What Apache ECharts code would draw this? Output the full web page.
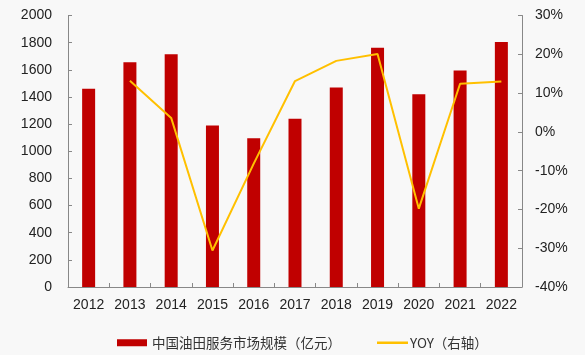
<!DOCTYPE html>
<html>
<head>
<meta charset="utf-8">
<script src="https://cdn.jsdelivr.net/npm/echarts@6/dist/echarts.min.js"></script>
<style>
html,body{margin:0;padding:0;background:#f8f8f8;}
#c{width:585px;height:355px;}
</style>
</head>
<body>
<div id="c"></div>
<script>
const years = ['2012','2013','2014','2015','2016','2017','2018','2019','2020','2021','2022'];
const marketSize = [1460, 1655, 1715, 1190, 1095, 1240, 1470, 1762, 1420, 1595, 1805];
const yoy = [null, 13.2, 3.6, -30.6, -8.2, 13.1, 18.3, 20.1, -19.8, 12.4, 13.0];
const leftTicks = {min: 0, max: 2000, interval: 200};
const rightTicks = {min: -40, max: 30, interval: 10};
const barName = '中国油田服务市场规模（亿元）';
const lineName = 'YOY（右轴）';

const chart = echarts.init(document.getElementById('c'), null, {renderer: 'canvas'});
const axisLine = {show: true, lineStyle: {color: '#888888', width: 1}};
const labelFont = {fontFamily: 'Liberation Sans, Arial, sans-serif', fontSize: 14, color: '#222222'};
chart.setOption({
  backgroundColor: '#f8f8f8',
  animation: false,
  grid: {left: 68, right: 63, top: 15.5, bottom: 68, containLabel: false},
  legend: [
    {
      data: [{name: barName, icon: 'rect'}], left: 112, top: 331, itemWidth: 30, itemHeight: 7, itemGap: 5,
      textStyle: {fontFamily: 'Noto Sans CJK SC', fontSize: 13.5, color: '#333333'}
    },
    {
      data: [{name: lineName, icon: 'rect'}], left: 372, top: 331, itemWidth: 31, itemHeight: 2.5,
      textStyle: {fontFamily: 'Noto Sans CJK SC', fontSize: 13.5, color: '#333333', padding: [0, 0, 0, -3]}
    }
  ],
  xAxis: {
    type: 'category', data: years, boundaryGap: true,
    axisLine: axisLine,
    axisTick: {show: true, inside: true, length: 4, lineStyle: {color: '#888888'}},
    axisLabel: Object.assign({margin: 11}, labelFont)
  },
  yAxis: [
    {
      type: 'value', min: leftTicks.min, max: leftTicks.max, interval: leftTicks.interval,
      axisLine: axisLine, splitLine: {show: false},
      axisTick: {show: true, inside: true, length: 4, lineStyle: {color: '#888888'}},
      axisLabel: Object.assign({margin: 16, formatter: function (v) { return String(v); }}, labelFont)
    },
    {
      type: 'value', min: rightTicks.min, max: rightTicks.max, interval: rightTicks.interval,
      position: 'right',
      axisLine: axisLine, splitLine: {show: false},
      axisTick: {show: true, inside: true, length: 4, lineStyle: {color: '#888888'}},
      axisLabel: Object.assign({margin: 13, formatter: '{value}%'}, labelFont)
    }
  ],
  series: [
    {
      name: barName, type: 'bar', data: marketSize, barWidth: 13,
      itemStyle: {color: '#c00000'}
    },
    {
      name: lineName, type: 'line', yAxisIndex: 1, data: yoy,
      symbol: 'none', connectNulls: false,
      lineStyle: {color: '#ffc000', width: 2},
      itemStyle: {color: '#ffc000'}
    }
  ]
});
</script>
</body>
</html>
